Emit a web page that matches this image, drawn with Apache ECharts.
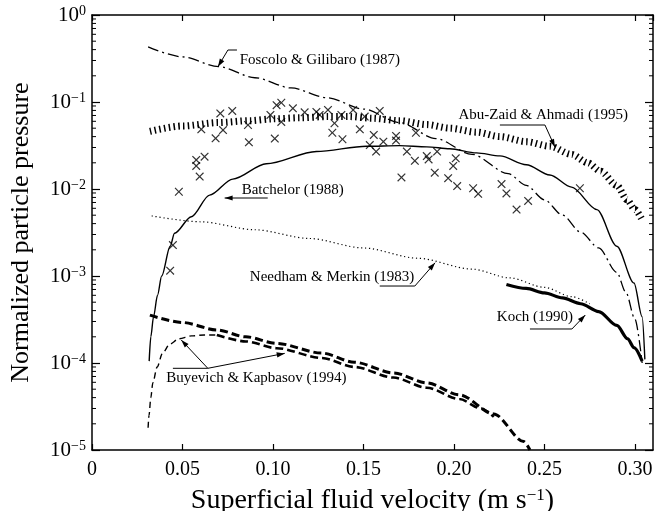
<!DOCTYPE html>
<html><head><meta charset="utf-8">
<script src="https://cdn.jsdelivr.net/npm/echarts@6/dist/echarts.min.js"></script>
<style>html,body{margin:0;padding:0;background:#fff}#c{width:657px;height:511px}</style>
</head><body><div id="c"></div>
<script>
// ---------- data ----------
const xTickLabels = ['0','0.05','0.10','0.15','0.20','0.25','0.30'];
const yDecades = [1e-5,1e-4,1e-3,1e-2,1e-1,1];

const fosV = [0.031,0.05,0.07,0.09,0.11,0.13,0.15,0.17,0.19,0.21,0.23,0.24,0.25,0.26,0.27,0.28,0.29,0.295,0.30,0.304];
const fosP = [0.43,0.33,0.255,0.19,0.145,0.112,0.083,0.058,0.038,0.025,0.015,0.011,0.0075,0.0050,0.0032,0.0021,0.0011,6.5e-4,3.2e-4,1.0e-4];

const batV = [0.0316,0.0325,0.034,0.0362,0.0385,0.0432,0.0456,0.0549,0.065,0.0778,0.0963,0.124,0.1517,0.170,0.185,0.1977,0.2125,0.2254,0.24,0.253,0.265,0.279,0.290,0.2995,0.304,0.3055];
const batP = [1.05e-4,2e-4,3.4e-4,6e-4,1e-3,2.2e-3,3.1e-3,4.8e-3,8.5e-3,0.013,0.0195,0.027,0.031,0.0315,0.0305,0.029,0.026,0.024,0.019,0.0145,0.0105,0.0058,0.0022,8.3e-4,3.4e-4,1.1e-4];

const abuV = [0.032,0.05,0.07,0.087,0.10,0.115,0.13,0.142,0.155,0.170,0.185,0.1977,0.2125,0.2254,0.24,0.253,0.265,0.274,0.281,0.290,0.2957,0.300,0.304];
const abuP = [0.046,0.053,0.058,0.061,0.064,0.066,0.068,0.068,0.065,0.061,0.055,0.050,0.045,0.040,0.035,0.031,0.025,0.020,0.016,0.011,0.0075,0.0058,0.0044];

const neeV = [0.033,0.06,0.09,0.12,0.15,0.18,0.21,0.231,0.25,0.265,0.275];
const neeP = [0.0049,0.0042,0.0034,0.0027,0.0021,0.0016,0.0012,9.5e-4,7.4e-4,5.8e-4,4.8e-4];

const kocV = [0.229,0.24,0.25,0.26,0.27,0.28,0.29,0.296,0.2995,0.304];
const kocP = [8e-4,7.2e-4,6.4e-4,5.6e-4,4.8e-4,3.9e-4,2.7e-4,1.9e-4,1.5e-4,1.05e-4];

const buyUpV = [0.032,0.05,0.069,0.085,0.102,0.127,0.145,0.1666,0.185,0.203,0.222,0.2386,0.242];
const buyUpP = [3.55e-4,2.92e-4,2.4e-4,2.0e-4,1.68e-4,1.3e-4,1.02e-4,7.7e-5,5.9e-5,4.3e-5,2.6e-5,1.25e-5,1.0e-5];

const buyRiseV = [0.031,0.0315,0.0325,0.0336,0.036,0.039,0.043,0.048,0.055,0.062,0.069];
const buyRiseP = [1.8e-5,2.5e-5,4e-5,5.9e-5,9e-5,1.3e-4,1.65e-4,1.9e-4,2.05e-4,2.1e-4,2.1e-4];

const buyLowV = [0.069,0.085,0.102,0.127,0.145,0.1666,0.185,0.203,0.215,0.222];
const buyLowP = [2.1e-4,1.77e-4,1.48e-4,1.14e-4,9.0e-5,6.8e-5,5.2e-5,3.85e-5,3.0e-5,2.4e-5];

const expV = [0.0432,0.0447,0.048,0.0576,0.0576,0.0595,0.0622,0.0604,0.0683,0.0724,0.0709,0.0775,0.0862,0.0867,0.0986,0.101,0.102,0.1046,0.1046,0.111,0.1175,0.124,0.1258,0.1304,0.1378,0.134,0.1328,0.1384,0.1443,0.148,0.1507,0.159,0.1557,0.157,0.161,0.1535,0.168,0.168,0.179,0.174,0.1784,0.185,0.186,0.1907,0.201,0.1996,0.171,0.1894,0.1968,0.2018,0.2106,0.2134,0.2263,0.229,0.2346,0.241,0.2696];
const expP = [0.00115,0.00227,0.0093,0.0184,0.0216,0.0139,0.0235,0.0485,0.0382,0.0476,0.074,0.079,0.0544,0.0344,0.071,0.038,0.092,0.098,0.059,0.0846,0.076,0.077,0.071,0.081,0.071,0.057,0.0443,0.0373,0.081,0.0485,0.068,0.079,0.0418,0.0269,0.035,0.032,0.0407,0.036,0.0443,0.0269,0.0211,0.0239,0.0219,0.0269,0.0225,0.0184,0.0136,0.0154,0.0133,0.0108,0.0102,0.0088,0.0114,0.0089,0.0058,0.0073,0.0102];

// annotations (data coordinates)
const noteTexts = ['Foscolo & Gilibaro (1987)','Abu-Zaid & Ahmadi (1995)','Batchelor (1988)','Needham & Merkin (1983)','Koch (1990)','Buyevich & Kapbasov (1994)'];
const noteAnchors = [[0.0816,0.304],[0.2025,0.0709],[0.0827,0.00975],[0.0872,9.8e-4],[0.2237,3.4e-4],[0.041,6.73e-5]];
const notePaths = [
  [[[0.0801,0.396],[0.0751,0.396],[0.0696,0.2546]]],
  [[[0.2254,0.0544],[0.2503,0.0544],[0.2558,0.0304]]],
  [[[0.0971,0.00788],[0.0733,0.00788]]],
  [[[0.159,7.67e-4],[0.1784,7.67e-4],[0.1896,1.42e-3]]],
  [[[0.242,2.46e-4],[0.2652,2.46e-4],[0.2726,3.56e-4]]],
  [[[0.0447,8.69e-5],[0.064,8.69e-5],[0.0493,1.84e-4]],[[0.064,8.69e-5],[0.1065,1.29e-4]]]
];

// ---------- chart ----------
const FONT = 'Liberation Serif';
const zip = (a,b) => a.map((v,i)=>[v,b[i]]);
const sup = {s:{fontSize:14, fontFamily:FONT, color:'#000', verticalAlign:'top', lineHeight:14}};

function line(name, v, p, ls) {
  return {name, type:'line', data:zip(v,p), showSymbol:false, symbol:'none', smooth:0.3, smoothMonotone:'x',
    lineStyle:Object.assign({color:'#000', cap:'butt'}, ls), z:3, silent:true};
}

const option = {
  animation:false,
  backgroundColor:'#fff',
  grid:{left:92, right:4, top:15, bottom:61, containLabel:false, outerBoundsMode:'none'},
  xAxis:[{
    type:'value', min:0, max:0.31, interval:0.05, position:'bottom',
    axisLine:{show:true, onZero:false, lineStyle:{color:'#000', width:1.5}},
    axisTick:{show:true, inside:true, length:6, lineStyle:{color:'#000', width:1.2}},
    splitLine:{show:false},
    axisLabel:{show:true, showMaxLabel:false, margin:10, color:'#000', fontFamily:FONT, fontSize:20,
      formatter:v => { const i = Math.round(v/0.05); return (Math.abs(v - i*0.05) < 1e-9 && xTickLabels[i]) ? xTickLabels[i] : ''; }},
    name:'Superficial fluid velocity (m s{s|−1})', nameLocation:'middle', nameGap:37,
    nameTextStyle:{color:'#000', fontFamily:FONT, fontSize:28, rich:{s:{fontSize:17, fontFamily:FONT, color:'#000', verticalAlign:'top', lineHeight:17}}}
  },{
    type:'value', min:0, max:0.31, interval:0.05, position:'top',
    axisLine:{show:true, onZero:false, lineStyle:{color:'#000', width:1.5}},
    axisTick:{show:true, inside:true, length:6, lineStyle:{color:'#000', width:1.2}},
    splitLine:{show:false}, axisLabel:{show:false}
  }],
  yAxis:[{
    type:'log', logBase:10, min:1e-5, max:1, position:'left',
    axisLine:{show:true, onZero:false, lineStyle:{color:'#000', width:1.5}},
    axisTick:{show:true, inside:true, length:8, lineStyle:{color:'#000', width:1.2}},
    splitLine:{show:false},
    axisLabel:{show:true, margin:6, color:'#000', fontFamily:FONT, fontSize:21, rich:sup,
      formatter:v => { const e = Math.round(Math.log10(v)); return '10{s|' + (e<0 ? '−'+(-e) : String(e)) + '}'; }},
    name:'Normalized particle pressure', nameLocation:'middle', nameGap:58, nameRotate:90,
    nameTextStyle:{color:'#000', fontFamily:FONT, fontSize:26}
  },{
    type:'log', logBase:10, min:1e-5, max:1, position:'right',
    axisLine:{show:true, onZero:false, lineStyle:{color:'#000', width:1.5}},
    axisTick:{show:true, inside:true, length:8, lineStyle:{color:'#000', width:1.2}},
    splitLine:{show:false}, axisLabel:{show:false}
  }],
  series:[
    line('Foscolo & Gilibaro (1987)', fosV, fosP, {width:1.3, type:[11,4,2,4]}),
    line('Batchelor (1988)', batV, batP, {width:1.4, type:'solid'}),
    line('Abu-Zaid & Ahmadi (1995)', abuV, abuP, {width:7, type:[1.5,3.3]}),
    line('Needham & Merkin (1983)', neeV, neeP, {width:1.2, type:[1.2,2.8]}),
    line('Koch (1990)', kocV, kocP, {width:3.2, type:'solid'}),
    line('Buyevich & Kapbasov (1994)', buyUpV, buyUpP, {width:3, type:[8,4]}),
    line('Buyevich & Kapbasov (1994) b', buyRiseV, buyRiseP, {width:1.4, type:[6,4]}),
    line('Buyevich & Kapbasov (1994) c', buyLowV, buyLowP, {width:2.6, type:[8,4]}),
    {name:'Experiments', type:'scatter', data:zip(expV, expP), symbol:'path://M0,1 L1,0 L5,4 L9,0 L10,1 L6,5 L10,9 L9,10 L5,6 L1,10 L0,9 L4,5 Z',
      symbolSize:8.5, itemStyle:{color:'#000'}, z:4, silent:true}
  ]
};

const chart = echarts.init(document.getElementById('c'), null, {renderer:'canvas'});
chart.setOption(option);

function px(p){ return chart.convertToPixel({xAxisIndex:0, yAxisIndex:0}, p); }
const g = [];
// minor ticks on log axes
const left = px([0, 1])[0], right = px([0.31, 1])[0];
yDecades.slice(0, -1).forEach(d => {
  for (let m = 2; m <= 9; m++) {
    const y = px([0, d*m])[1];
    g.push({type:'line', shape:{x1:left, y1:y, x2:left+4, y2:y}, style:{stroke:'#000', lineWidth:1}, silent:true});
    g.push({type:'line', shape:{x1:right-4, y1:y, x2:right, y2:y}, style:{stroke:'#000', lineWidth:1}, silent:true});
  }
});
// annotations
noteTexts.forEach((t, i) => {
  const a = px(noteAnchors[i]);
  g.push({type:'text', x:a[0], y:a[1], style:{text:t, fill:'#000', fontFamily:FONT, fontSize:15, align:'left', verticalAlign:'middle'}, silent:true, z:10});
  notePaths[i].forEach(path => {
    const pts = path.map(px);
    g.push({type:'polyline', shape:{points:pts}, style:{stroke:'#000', lineWidth:1, fill:null}, silent:true, z:10});
    const tip = pts[pts.length-1], prev = pts[pts.length-2];
    const dx = tip[0]-prev[0], dy = tip[1]-prev[1], L = Math.hypot(dx, dy);
    const ux = dx/L, uy = dy/L, al = 8, aw = 2.6;
    const bx = tip[0]-ux*al, by = tip[1]-uy*al;
    g.push({type:'polygon', shape:{points:[tip,[bx-uy*aw, by+ux*aw],[bx+uy*aw, by-ux*aw]]}, style:{fill:'#000'}, silent:true, z:10});
  });
});
chart.setOption({graphic:g});
</script>
</body></html>
